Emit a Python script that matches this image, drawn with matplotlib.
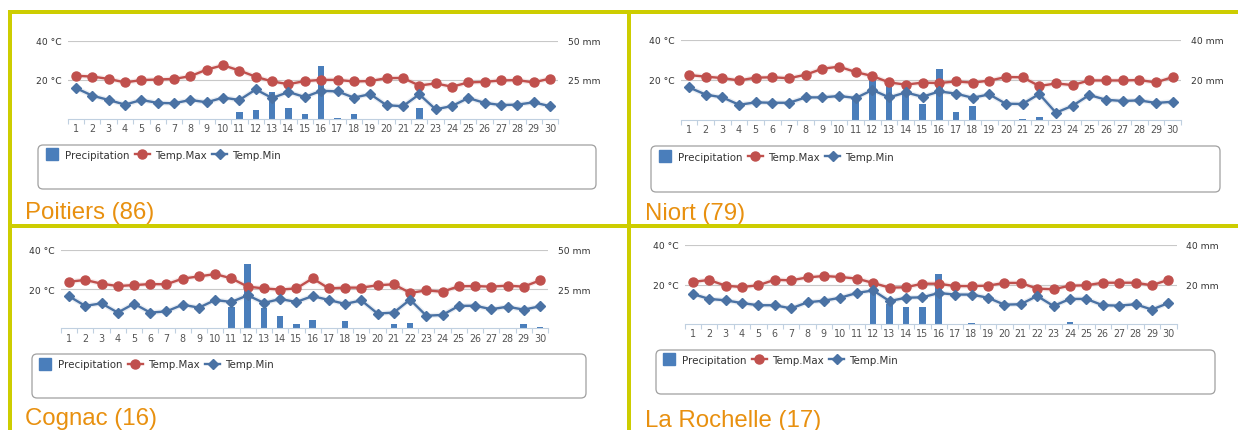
import numpy as np
import matplotlib
matplotlib.use("Agg")
import matplotlib.pyplot as plt
from matplotlib.patches import FancyBboxPatch, Rectangle
from matplotlib.lines import Line2D
from matplotlib.transforms import IdentityTransform

# === DATA ===
days = list(range(1, 31))

poitiers_max = [21.9, 21.5, 20.3, 18.5, 19.7, 20.0, 20.3, 21.7, 25.1, 27.3,
                24.6, 21.4, 19.0, 17.6, 19.2, 19.8, 19.8, 19.0, 19.2, 20.7,
                20.8, 16.9, 18.0, 16.3, 18.5, 18.8, 19.5, 19.7, 18.5, 20.5]
poitiers_min = [15.6, 11.7, 9.5, 7.1, 9.5, 8.0, 7.8, 9.5, 8.3, 10.7,
                9.5, 14.9, 10.5, 13.6, 11.0, 14.2, 13.9, 10.7, 12.5, 6.8,
                6.3, 12.4, 4.7, 6.4, 10.5, 8.0, 6.9, 7.1, 8.3, 6.3]
poitiers_rain = [0, 0, 0, 0, 0, 0, 0, 0, 0, 0,
                 4.4, 5.3, 16.7, 6.6, 2.8, 33.5, 0.3, 2.8, 0, 0,
                 0, 6.8, 0, 0, 0, 0, 0, 0, 0, 0]

niort_max = [22.4, 21.6, 20.9, 19.7, 21.1, 21.3, 20.8, 22.6, 25.6, 26.6,
             23.9, 21.9, 18.7, 17.6, 18.6, 18.4, 19.2, 18.6, 19.6, 21.4,
             21.3, 16.9, 18.2, 17.4, 19.7, 19.7, 19.7, 19.9, 18.7, 21.4]
niort_min = [16.2, 12.6, 11.2, 7.5, 8.7, 8.5, 8.5, 11.2, 11.2, 11.9,
             10.9, 14.9, 11.2, 13.7, 11.5, 14.2, 13.1, 11.0, 12.7, 8.0,
             7.9, 12.9, 3.5, 7.0, 12.4, 10.0, 9.4, 9.7, 8.4, 9.0]
niort_rain = [0, 0, 0, 0, 0, 0, 0, 0, 0, 0,
              11.5, 22.0, 18.0, 14.0, 7.8, 25.3, 3.7, 7.0, 0, 0,
              0.4, 1.6, 0, 0, 0, 0, 0, 0, 0, 0]

cognac_max = [23.7, 24.6, 22.7, 21.5, 22.0, 22.5, 22.4, 25.3, 26.4, 27.6,
              25.4, 21.2, 20.3, 19.7, 20.3, 25.4, 20.3, 20.7, 20.7, 21.9,
              22.4, 18.0, 19.3, 18.6, 21.4, 21.5, 21.2, 21.7, 21.2, 24.4]
cognac_min = [16.3, 11.4, 12.7, 8.0, 12.5, 8.0, 8.6, 12.0, 10.5, 14.4,
              13.4, 16.8, 12.9, 14.9, 13.4, 16.4, 14.4, 12.4, 14.2, 7.5,
              8.0, 14.6, 6.4, 6.8, 11.4, 11.5, 9.7, 11.0, 9.5, 11.2]
cognac_rain = [0, 0, 0, 0, 0, 0, 0, 0, 0, 0,
               13.3, 40.7, 13.1, 7.6, 2.5, 5.5, 0.5, 4.6, 0, 0,
               2.8, 3.5, 0, 0, 0, 0, 0, 0, 2.5, 0.7]

rochelle_max = [21.3, 22.3, 19.4, 18.7, 19.6, 22.4, 22.1, 23.6, 24.3, 23.8,
                23.0, 20.8, 18.4, 18.6, 20.4, 20.4, 19.2, 19.2, 19.4, 20.8,
                20.8, 17.9, 17.6, 19.4, 19.6, 20.9, 20.9, 20.9, 19.6, 22.4]
rochelle_min = [15.2, 12.7, 12.0, 10.6, 9.5, 9.5, 7.9, 11.0, 11.8, 13.3,
                15.7, 17.0, 11.6, 13.3, 13.5, 15.7, 14.9, 14.9, 13.3, 9.8,
                10.0, 14.2, 9.1, 12.7, 12.7, 9.5, 9.3, 10.0, 7.3, 10.6]
rochelle_rain = [0, 0, 0, 0, 0, 0, 0, 0, 0, 0,
                 0, 18.0, 10.0, 8.6, 8.6, 25.1, 0.1, 0.3, 0, 0,
                 0, 0, 0, 1.0, 0, 0, 0, 0, 0, 0]

titles = ["Poitiers (86)", "Niort (79)", "Cognac (16)", "La Rochelle (17)"]
rain_tops = [50, 40, 50, 40]

# === STYLE / LAYOUT (pixels) ===
W, H, DPI = 1238, 431, 100
BLUE_BAR = "#4A7EBB"
RED = "#C0504D"
BLUE = "#4A72A4"
AXIS_C = "#C0D0E0"
ORANGE = "#E8900F"
YELLOW = "#CDCD00"

# plot area: left, top(40 °C), right, bottom(0)
areas = [(67.8, 41.5, 558.2, 119.5),
         (680.7, 41.0, 1181.0, 120.7),
         (60.9, 250.7, 548.1, 329.3),
         (684.5, 246.0, 1176.5, 325.0)]
legend_boxes = [(38, 146, 596, 190), (651, 147, 1220, 193),
                (32, 355, 586, 399), (656, 351, 1215, 395)]
legend_at = [(44.5, 151), (657.5, 153), (37.5, 360.5), (661.5, 356)]
title_at = [(25, 219), (645, 220), (25, 425), (645, 427)]

plt.rcParams["font.family"] = "DejaVu Sans"
fig = plt.figure(figsize=(W / DPI, H / DPI), dpi=DPI)
fig.patch.set_facecolor("white")


def px_rect(x0, y0, x1, y1):
    return [x0 / W, 1 - y1 / H, (x1 - x0) / W, (y1 - y0) / H]


def draw_panel(i, tmax, tmin, rain):
    ax = fig.add_axes(px_rect(*areas[i]))
    ax2 = ax.twinx()
    ax.set_zorder(ax2.get_zorder() + 1)
    ax.patch.set_visible(False)

    top = rain_tops[i]
    ax2.bar(days, rain, width=0.4, color=BLUE_BAR, zorder=2)
    ax2.set_ylim(0, top)
    ax2.set_yticks([top / 2, top])
    ax2.set_yticklabels([f"{top / 2:g} mm", f"{top:g} mm"])
    ax2.tick_params(axis="y", length=0, pad=7, labelsize=6.6, labelcolor="#333333")
    ax2.yaxis.grid(True, color="#C8C8C8", lw=0.8)
    ax2.set_axisbelow(True)
    for s in ax2.spines.values():
        s.set_visible(False)

    # soft shadows under the lines
    ax.plot(days, tmax, color=RED, lw=3.6, alpha=0.12)
    ax.plot(days, tmin, color=BLUE, lw=3.6, alpha=0.12)
    lmax, = ax.plot(days, tmax, color=RED, lw=1.7, marker="o", ms=6.5,
                    mfc=RED, mec=RED, label="Temp.Max")
    lmin, = ax.plot(days, tmin, color=BLUE, lw=1.7, marker="D", ms=5.2,
                    mfc=BLUE, mec=BLUE, label="Temp.Min")

    ax.set_xlim(0.5, 30.5)
    ax.set_ylim(0, 40)
    ax.set_yticks([20, 40])
    ax.set_yticklabels(["20 °C", "40 °C"])
    ax.tick_params(axis="y", length=0, pad=4.5, labelsize=6.6, labelcolor="#333333")
    ax.set_xticks(days)
    ax.set_xticks(np.arange(0.5, 31, 1), minor=True)
    ax.tick_params(axis="x", which="major", length=0, pad=3.2, labelsize=6.9,
                   labelcolor="#555555")
    ax.tick_params(axis="x", which="minor", length=3.5, width=0.8, color=AXIS_C)
    for s in ["top", "left", "right"]:
        ax.spines[s].set_visible(False)
    ax.spines["bottom"].set_color(AXIS_C)
    ax.spines["bottom"].set_linewidth(0.8)

    # legend box + legend
    x0, y0, x1, y1 = legend_boxes[i]
    fig.add_artist(FancyBboxPatch((x0, H - y1), x1 - x0, y1 - y0,
                                  boxstyle="round,pad=0,rounding_size=5",
                                  transform=IdentityTransform(), fc="none",
                                  ec="#A0A0A0", lw=0.9, zorder=1))
    sq = Line2D([], [], ls="none", marker="s", ms=9.2, color=BLUE_BAR)
    lx, ly = legend_at[i]
    fig.legend([sq, lmax, lmin], ["Precipitation", "Temp.Max", "Temp.Min"],
               loc="upper left", bbox_to_anchor=(lx / W, 1 - ly / H),
               frameon=False, ncol=3, fontsize=7.4, handlelength=1.45,
               handletextpad=0.5, columnspacing=0.55, borderpad=0,
               borderaxespad=0, labelcolor="#333333")

    tx, ty = title_at[i]
    fig.text(tx / W, 1 - ty / H, titles[i], fontsize=17.3, color=ORANGE,
             family="Liberation Sans", va="baseline")


draw_panel(0, poitiers_max, poitiers_min, poitiers_rain)
draw_panel(1, niort_max, niort_min, niort_rain)
draw_panel(2, cognac_max, cognac_min, cognac_rain)
draw_panel(3, rochelle_max, rochelle_min, rochelle_rain)

# yellow frame lines
for (x0, y0, x1, y1) in [(8, 11, W, 14.5), (8, 11, 11.5, H),
                         (626.5, 11, 631, H), (8, 224.5, W, 229)]:
    fig.add_artist(Rectangle((x0, H - y1), x1 - x0, y1 - y0,
                             transform=IdentityTransform(), fc=YELLOW,
                             ec="none", zorder=10))

fig.savefig("out.png", dpi=DPI)
